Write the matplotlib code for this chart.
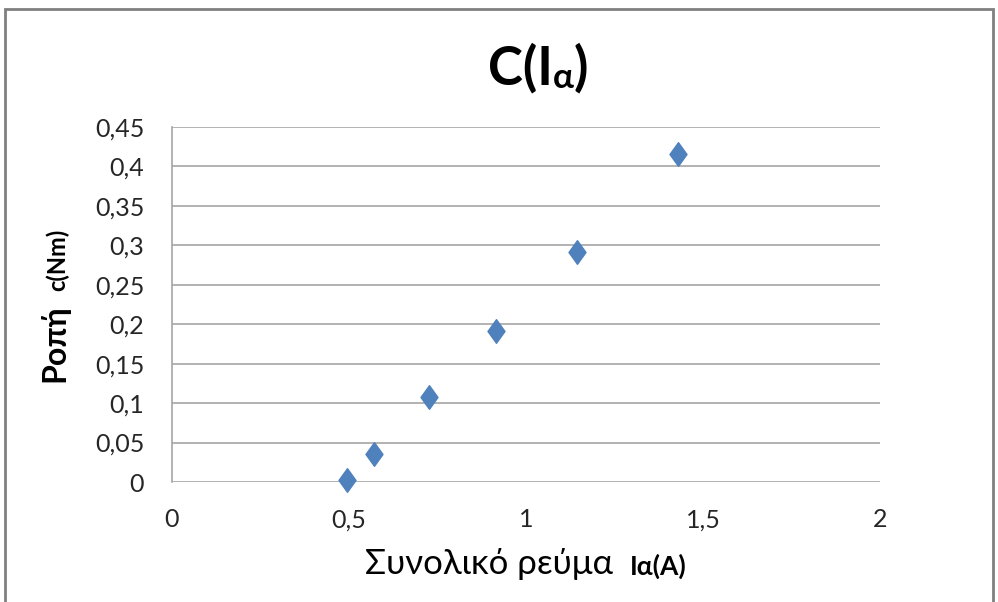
import matplotlib.pyplot as plt
import numpy as np
from matplotlib.path import Path
from matplotlib.patches import Rectangle

plt.rcParams['font.family'] = ['Lato', 'DejaVu Sans']

# data
current = [0.494, 0.571, 0.726, 0.915, 1.144, 1.429]
torque = [0.003, 0.035, 0.108, 0.191, 0.292, 0.416]
xticks = [0, 0.5, 1, 1.5, 2]
yticks = [0, 0.05, 0.1, 0.15, 0.2, 0.25, 0.3, 0.35, 0.4, 0.45]

fig = plt.figure(figsize=(9.98, 6.02), dpi=100)
ax = fig.add_axes([0.1723, 0.1993, 0.7094, 0.5897])

# slightly tall diamond like the excel marker
diamond = Path([(0, 1), (0.72, 0), (0, -1), (-0.72, 0), (0, 1)],
               [Path.MOVETO, Path.LINETO, Path.LINETO, Path.LINETO, Path.CLOSEPOLY])
ax.plot(current, torque, linestyle='none', marker=diamond, markersize=17,
        color='#4F81BD', markeredgecolor='#4F81BD', zorder=3, clip_on=False)

ax.set_xlim(0, 2)
ax.set_ylim(0, 0.45)
ax.set_xticks(xticks)
ax.set_yticks(yticks)
fmt = lambda v: ('%g' % v).replace('.', ',')
ax.set_xticklabels([fmt(v) for v in xticks])
ax.set_yticklabels([fmt(v) for v in yticks])
ax.tick_params(length=0, labelsize=18, colors='#262626')
ax.tick_params(axis='y', pad=20)
ax.tick_params(axis='x', pad=19)

ax.grid(axis='y', color='#A6A6A6', linewidth=1.2)
ax.set_axisbelow(True)
for s in ['top', 'right', 'bottom']:
    ax.spines[s].set_visible(False)
ax.spines['left'].set_color('#A6A6A6')
ax.spines['left'].set_linewidth(1.2)

# title C(Iα) with a smaller alpha
t1 = fig.text(0.489, 0.859, 'C(I', fontsize=38, fontweight='bold', ha='left', va='baseline')
t2 = ax.annotate('α', xy=(1, 0), xycoords=t1, fontsize=25, fontweight='bold',
                 ha='left', va='bottom')
ax.annotate(')', xy=(1, 0), xycoords=t2, fontsize=38, fontweight='bold',
            ha='left', va='bottom')

# y label (rotated, second part on the same baseline)
ylx, yly = 0.065, 0.365
y1 = fig.text(ylx, yly, 'Ροπή', fontsize=23, fontweight='bold', rotation=90,
              rotation_mode='anchor', ha='left', va='baseline')

# x label
xlx, xly = 0.366, 0.046
x1 = fig.text(xlx, xly, 'Συνολικό ρεύμα', fontsize=25, ha='left', va='baseline',
              color='black')

fig.canvas.draw()
W, H = fig.bbox.width, fig.bbox.height
by = y1.get_window_extent()
fig.text(ylx, (by.y1 + 14) / H, 'c(Nm)', fontsize=17, fontweight='bold', rotation=90,
         rotation_mode='anchor', ha='left', va='baseline')
bx = x1.get_window_extent()
fig.text((bx.x1 + 16) / W, xly, 'Iα(A)', fontsize=19, fontweight='bold',
         ha='left', va='baseline')

# chart border
fig.patches.append(Rectangle((0.005, -0.01), 0.99, 0.995, transform=fig.transFigure,
                             fill=False, edgecolor='#808080', linewidth=2))

fig.savefig('out.png', dpi=100)
